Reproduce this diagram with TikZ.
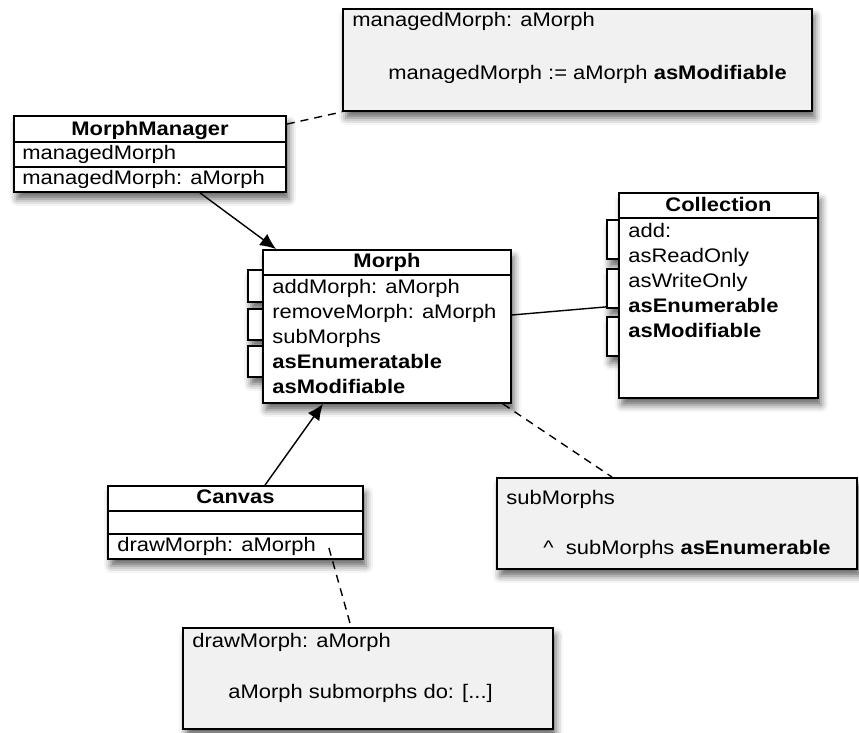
\documentclass[tikz,border=0pt]{standalone}
\usepackage{fontspec}
\setmainfont[FakeStretch=1.12]{Liberation Sans}
\usetikzlibrary{fit,calc,arrows.meta,shadows.blur}
\definecolor{notegray}{RGB}{241,241,241}
\newcommand{\dfont}{\fontsize{9.8pt}{11pt}\selectfont}
\begin{document}
\begin{tikzpicture}[x=0.5pt,y=-0.5pt,
  shadowed/.style={blur shadow={shadow xshift=1.5pt, shadow yshift=-3.5pt, shadow blur radius=3.5pt, shadow opacity=60}},
  classbox/.style={draw, line width=0.9pt, fill=white, inner sep=0pt, shadowed},
  notebox/.style={draw, line width=0.9pt, fill=notegray, inner sep=0pt, shadowed},
  sepline/.style={line width=0.8pt},
  txt/.style={anchor=base west, inner sep=0pt, font=\dfont},
  hdr/.style={anchor=base, inner sep=0pt, font=\dfont\bfseries},
  assoc/.style={line width=0.7pt, -{Latex[length=8pt,width=7pt]}},
  plainline/.style={line width=0.7pt},
  noteline/.style={line width=0.7pt, dash pattern=on 4pt off 3pt}
]
\useasboundingbox (0,0) rectangle (859,733);

% ---------- Notes ----------
\node[notebox, fit={(343,9) (812,111)}] (n1) {};
\node[txt] (n1a) at (352,27) {managedMorph: aMorph};
\node[txt] (n1b) at (388,80) {managedMorph := aMorph \textbf{asModifiable}};

\node[notebox, fit={(497,478) (857,569)}] (n2) {};
\node[txt] (n2a) at (506,505) {subMorphs};
\node[txt] (n2b) at (543,555) {\textasciicircum\ \ subMorphs \textbf{asEnumerable}};

\node[notebox, fit={(183,628) (553,729)}] (n3) {};
\node[txt] (n3a) at (192,647) {drawMorph: aMorph};
\node[txt] (n3b) at (228,698) {aMorph submorphs do: [...]};

% ---------- MorphManager ----------
\node[classbox, fit={(14,116) (286,192)}] (mm) {};
\draw[sepline] (14,142) -- (286,142);
\draw[sepline] (14,167) -- (286,167);
\node[hdr] (mmh) at (150,136) {MorphManager};
\node[txt] (mm1) at (22,160) {managedMorph};
\node[txt] (mm2) at (22,185) {managedMorph: aMorph};

% ---------- Morph ----------
\node[classbox, fit={(248,270) (263,302)}] (mt1) {};
\node[classbox, fit={(248,309) (263,340)}] (mt2) {};
\node[classbox, fit={(248,346) (263,377)}] (mt3) {};
\node[classbox, fit={(263,250) (511,403)}] (morph) {};
\draw[sepline] (263,275) -- (511,275);
\node[hdr] (morphh) at (387,268) {Morph};
\node[txt] (m1) at (272,294) {addMorph: aMorph};
\node[txt] (m2) at (272,319) {removeMorph: aMorph};
\node[txt] (m3) at (272,344) {subMorphs};
\node[txt] (m4) at (272,369) {\textbf{asEnumeratable}};
\node[txt] (m5) at (272,394) {\textbf{asModifiable}};

% ---------- Collection ----------
\node[classbox, fit={(607,220) (619,259)}] (ct1) {};
\node[classbox, fit={(607,269) (619,308)}] (ct2) {};
\node[classbox, fit={(607,317) (619,356)}] (ct3) {};
\node[classbox, fit={(619,193) (818,398)}] (coll) {};
\draw[sepline] (619,218) -- (818,218);
\node[hdr] (collh) at (718.5,212) {Collection};
\node[txt] (c1) at (628,238) {add:};
\node[txt] (c2) at (628,263) {asReadOnly};
\node[txt] (c3) at (628,288) {asWriteOnly};
\node[txt] (c4) at (628,313) {\textbf{asEnumerable}};
\node[txt] (c5) at (628,338) {\textbf{asModifiable}};

% ---------- Canvas ----------
\node[classbox, fit={(108,486) (363,559)}] (canvas) {};
\draw[sepline] (108,511) -- (363,511);
\draw[sepline] (108,534) -- (363,534);
\node[hdr] (canvash) at (235.5,504) {Canvas};
\node[txt] (cv1) at (117,552) {drawMorph: aMorph};

% ---------- Connectors ----------
\draw[assoc] ([xshift=25pt]mm.south) -- ([xshift=7pt]morph.north west);
\draw[assoc] ([xshift=14.75pt]canvas.north) -- ([xshift=-32pt]morph.south);
\draw[plainline] ([yshift=5.75pt]morph.east) -- ([yshift=1pt]ct2.south west);
\draw[noteline] ([yshift=-4.5pt]mm.north east) -- (n1.south west);
\draw[noteline] ([xshift=-4.5pt]morph.south east) -- ([xshift=58pt]n2.north west);
\draw[noteline] ([xshift=-17.5pt,yshift=6pt]canvas.south east) -- ([xshift=84.5pt]n3.north west);
\end{tikzpicture}
\end{document}
